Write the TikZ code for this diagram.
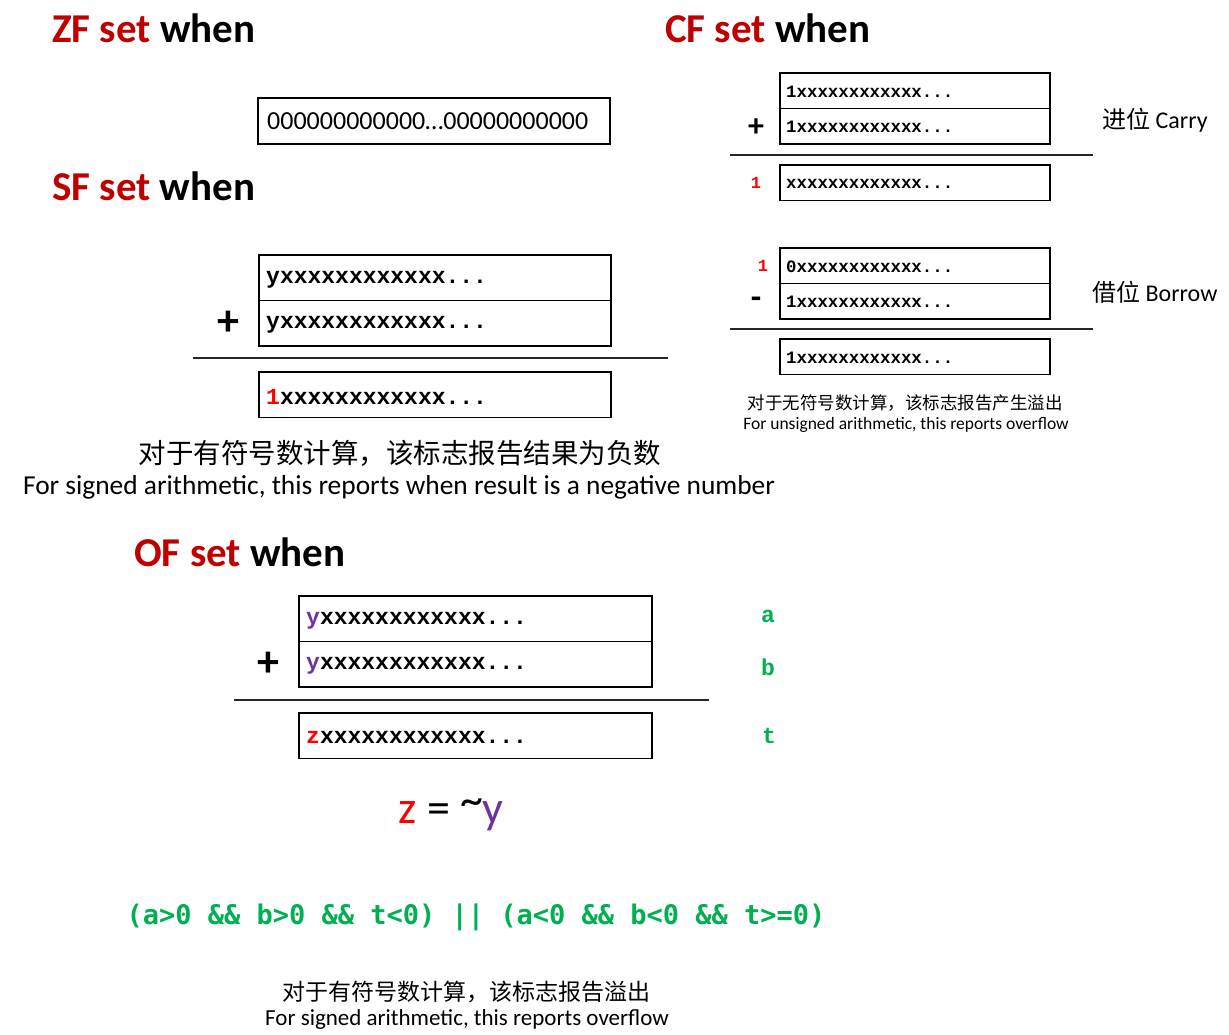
\documentclass[tikz,border=0pt]{standalone}
\usepackage{fontspec}
\setmainfont{Carlito}
\newfontfamily\cjk{Noto Sans CJK SC}
\newfontfamily\cmono{Liberation Mono}
\newfontfamily\smono{DejaVu Sans Mono}
\definecolor{titlered}{HTML}{C00000}
\definecolor{bitred}{HTML}{FF0000}
\definecolor{bitpurple}{HTML}{7030A0}
\definecolor{condgreen}{HTML}{00B050}
\newcommand\fs[1]{\fontsize{#1pt}{#1pt}\selectfont}
\begin{document}
\begin{tikzpicture}[x=1pt,y=-1pt,
 rowbox/.style={draw=black, line width=1.8pt, anchor=north west, inner sep=0pt},
 bigrow/.style={rowbox, minimum width=352pt, minimum height=45.5pt},
 smallrow/.style={rowbox, minimum width=270pt, minimum height=35.5pt},
 bigtxt/.style={anchor=west, inner sep=0pt, font=\cmono\bfseries\fs{23}},
 smalltxt/.style={anchor=west, inner sep=0pt, font=\cmono\bfseries\fs{17.4}},
 rule/.style={draw=black!85, line width=1.4pt},
 title/.style={anchor=base west, inner sep=0pt, font=\bfseries\fs{41}},
 opsign/.style={inner sep=0pt, font=\bfseries\fs{44}},
 lbl/.style={inner sep=0pt, font=\cmono\bfseries\fs{23}, text=condgreen},
 txt/.style={inner sep=0pt}
]
\useasboundingbox (0,0) rectangle (1229,1034);

% ---------- titles
\node[title] (zft) at (52,42) {\textcolor{titlered}{ZF set} when};
\node[title] (cft) at (665,42) {\textcolor{titlered}{CF set} when};
\node[title] (sft) at (52,200) {\textcolor{titlered}{SF set} when};
\node[title] (oft) at (134,566) {\textcolor{titlered}{OF set} when};

% ---------- ZF
\node[rowbox, minimum width=352pt, minimum height=46pt] (zfbox) at (257,97) {};
\node[txt, anchor=west, font=\fs{26}] (zftxt) at ([xshift=10pt]zfbox.west) {000000000000…00000000000};

% ---------- SF
\node[bigrow] (sf1) at (258,254) {};
\node[bigrow] (sf2) at (258,299.5) {};
\node[bigrow] (sf3) at (258,371) {};
\node[bigtxt] (sf1t) at ([xshift=8pt,yshift=-2pt]sf1.west) {yxxxxxxxxxxxx...};
\node[bigtxt] (sf2t) at ([xshift=8pt,yshift=-2pt]sf2.west) {yxxxxxxxxxxxx...};
\node[bigtxt] (sf3t) at ([xshift=8pt,yshift=-2pt]sf3.west) {{\color{bitred}1}xxxxxxxxxxxx...};
\coordinate (sfl1) at (193,358);
\coordinate (sfl2) at (668,358);
\draw[rule] (sfl1) -- (sfl2);
\node[opsign] (sfplus) at (228,323) {+};
\node[txt, font=\cjk\fs{27.5}] (sfcn) at (400,453) {对于有符号数计算，该标志报告结果为负数};
\node[txt, font=\fs{27.4}] (sfen) at (399,487) {For signed arithmetic, this reports when result is a negative number};

% ---------- CF carry
\node[smallrow] (c1) at (779,72) {};
\node[smallrow] (c2) at (779,107.5) {};
\node[smallrow] (c3) at (779,164) {};
\node[smalltxt] (c1t) at ([xshift=7pt,yshift=-1pt]c1.west) {1xxxxxxxxxxxx...};
\node[smalltxt] (c2t) at ([xshift=7pt,yshift=-1pt]c2.west) {1xxxxxxxxxxxx...};
\node[smalltxt] (c3t) at ([xshift=7pt,yshift=-1pt]c3.west) {xxxxxxxxxxxxx...};
\coordinate (cl1) at (730,155);
\coordinate (cl2) at (1093,155);
\draw[rule] (cl1) -- (cl2);
\node[inner sep=0pt, font=\bfseries\fs{32}] (cplus) at (756,128) {+};
\node[inner sep=0pt, font=\cmono\bfseries\fs{17}, text=bitred] (ccarry) at (756,183) {1};
\node[txt, anchor=west, font=\fs{24}] (carry) at (1102,120) {{\cjk 进位} Carry};

% ---------- CF borrow
\node[smallrow] (b1) at (779,247) {};
\node[smallrow] (b2) at (779,282.5) {};
\node[smallrow] (b3) at (779,338) {};
\node[smalltxt] (b1t) at ([xshift=7pt,yshift=-1pt]b1.west) {0xxxxxxxxxxxx...};
\node[smalltxt] (b2t) at ([xshift=7pt,yshift=-1pt]b2.west) {1xxxxxxxxxxxx...};
\node[smalltxt] (b3t) at ([xshift=7pt,yshift=-1pt]b3.west) {1xxxxxxxxxxxx...};
\coordinate (bl1) at (730,329);
\coordinate (bl2) at (1093,329);
\draw[rule] (bl1) -- (bl2);
\node[inner sep=0pt, font=\bfseries\fs{34}] (bminus) at (756,303) {-};
\node[inner sep=0pt, font=\cmono\bfseries\fs{17}, text=bitred] (bborrow) at (763,266) {1};
\node[txt, anchor=west, font=\fs{24}] (borrow) at (1092,292) {{\cjk 借位} Borrow};
\node[txt, font=\cjk\fs{17.5}] (cfcn) at (905,403) {对于无符号数计算，该标志报告产生溢出};
\node[txt, font=\fs{17.5}] (cfen) at (906,425) {For unsigned arithmetic, this reports overflow};

% ---------- OF
\node[bigrow, minimum width=353pt] (o1) at (298,595) {};
\node[bigrow, minimum width=353pt] (o2) at (298,640.5) {};
\node[bigrow, minimum width=353pt] (o3) at (298,712) {};
\node[bigtxt] (o1t) at ([xshift=8pt,yshift=-2pt]o1.west) {{\color{bitpurple}y}xxxxxxxxxxxx...};
\node[bigtxt] (o2t) at ([xshift=8pt,yshift=-2pt]o2.west) {{\color{bitpurple}y}xxxxxxxxxxxx...};
\node[bigtxt] (o3t) at ([xshift=8pt,yshift=-2pt]o3.west) {{\color{bitred}z}xxxxxxxxxxxx...};
\coordinate (ol1) at (234,700);
\coordinate (ol2) at (709,700);
\draw[rule] (ol1) -- (ol2);
\node[opsign] (oplus) at (268,664) {+};
\node[lbl] (la) at (768,616) {a};
\node[lbl] (lb) at (768,667) {b};
\node[lbl] (lt) at (769,736) {t};
\node[txt, anchor=base, font=\fs{46}] (zeq) at (451,823) {\textcolor{bitred}{z} = \raisebox{8pt}{\char`\~}\kern-1pt\textcolor{bitpurple}{y}};
\node[txt, font=\smono\bfseries\fs{27}, text=condgreen] (cond) at (476,917) {(a>0 \&\& b>0 \&\& t<0) || (a<0 \&\& b<0 \&\& t>=0)};
\node[txt, font=\cjk\fs{23}] (ofcn) at (466,992) {对于有符号数计算，该标志报告溢出};
\node[txt, font=\fs{23}] (ofen) at (467,1019) {For signed arithmetic, this reports overflow};
\end{tikzpicture}
\end{document}
